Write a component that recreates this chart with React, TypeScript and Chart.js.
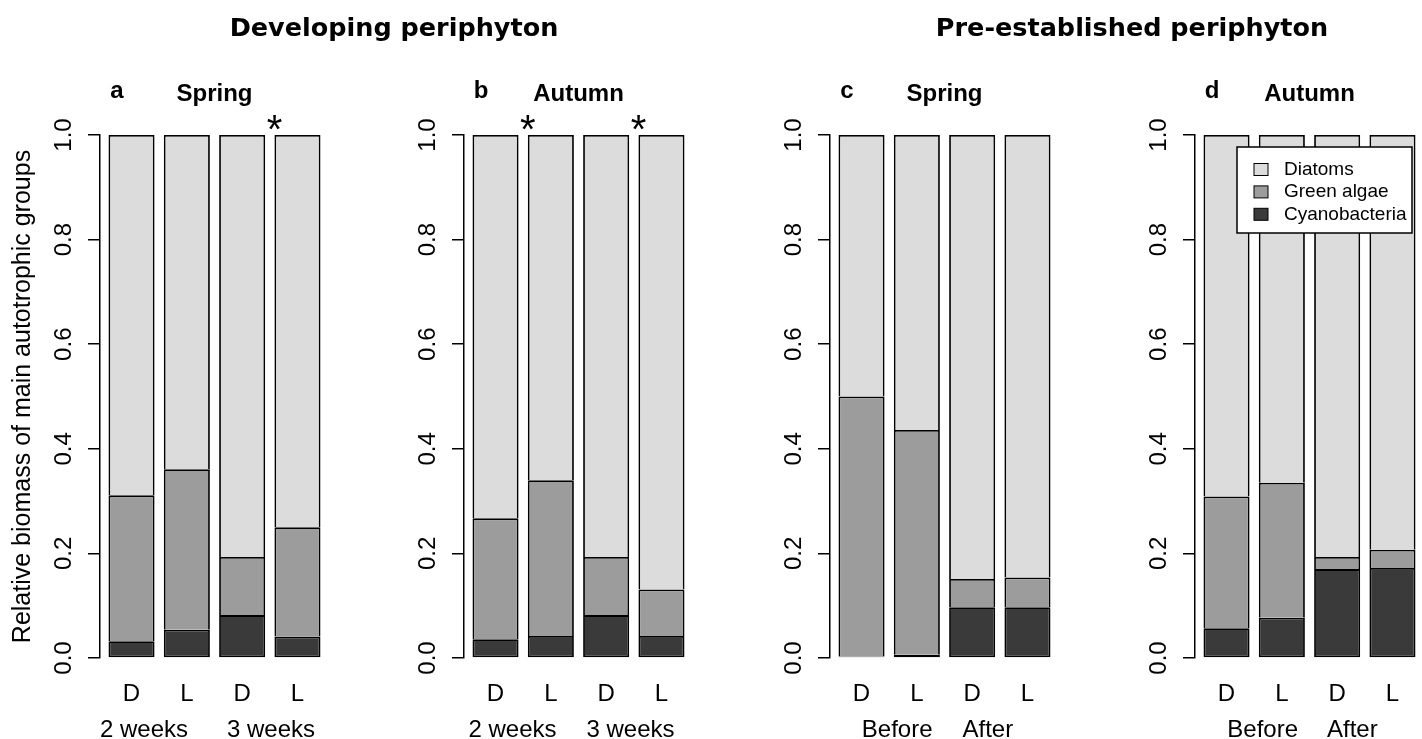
import React, { useEffect, useRef } from "react";
import { Chart, registerables } from "chart.js";

Chart.register(...registerables);

// ---------- data ----------
const xLabels = ["D", "L", "D", "L"];
const xIndex = [0, 1, 2, 3];
const yTicks = [0, 0.2, 0.4, 0.6, 0.8, 1.0];
const seriesNames = ["Cyanobacteria", "Green algae", "Diatoms"];
const seriesColors = ["#3a3a3a", "#9c9c9c", "#dcdcdc"];
const yTitle = "Relative biomass of main autotrophic groups";
const mainTitles = ["Developing periphyton", "Pre-established periphyton"];
const panelLetters = ["a", "b", "c", "d"];
const seasons = ["Spring", "Autumn", "Spring", "Autumn"];
const groupsDeveloping = ["2 weeks", "3 weeks"];
const groupsPre = ["Before", "After"];

// panel a: Developing, Spring
const cyanoA = [0.032, 0.054, 0.082, 0.041];
const greenA = [0.279, 0.307, 0.111, 0.209];
const diatomA = [0.689, 0.639, 0.807, 0.75];
const starsA = [3];

// panel b: Developing, Autumn
const cyanoB = [0.036, 0.042, 0.082, 0.042];
const greenB = [0.231, 0.298, 0.111, 0.089];
const diatomB = [0.733, 0.66, 0.807, 0.869];
const starsB = [1, 3];

// panel c: Pre-established, Spring
const cyanoC = [0.003, 0.006, 0.097, 0.097];
const greenC = [0.497, 0.43, 0.054, 0.057];
const diatomC = [0.5, 0.564, 0.849, 0.846];
const starsC: number[] = [];

// panel d: Pre-established, Autumn
const cyanoD = [0.057, 0.077, 0.17, 0.172];
const greenD = [0.252, 0.258, 0.023, 0.035];
const diatomD = [0.691, 0.665, 0.807, 0.793];
const starsD: number[] = [];

const FONT = "'Liberation Sans', Arial, sans-serif";

type PanelProps = {
  left: number;
  letter: string;
  season: string;
  cyano: number[];
  green: number[];
  diatom: number[];
  groups: string[];
  groupGap: number;
  stars: number[];
  showYTitle: boolean;
  showLegend: boolean;
};

function Panel(props: PanelProps) {
  const ref = useRef<HTMLCanvasElement>(null);
  useEffect(() => {
    const { letter, season, cyano, green, diatom, groups, groupGap, stars, showYTitle, showLegend } = props;
    const decor = {
      id: "decor",
      afterDraw(chart: any) {
        const { ctx, chartArea } = chart;
        const ys = chart.scales.y;
        ctx.save();
        ctx.fillStyle = "#000";
        // rotated y tick labels
        ctx.font = `24px ${FONT}`;
        ctx.textAlign = "center";
        ctx.textBaseline = "middle";
        ys.ticks.forEach((t: any) => {
          const y = ys.getPixelForValue(t.value);
          ctx.save();
          ctx.translate(chartArea.left - 35.5, y);
          ctx.rotate(-Math.PI / 2);
          ctx.fillText(Number(t.value).toFixed(1), 0, 0);
          ctx.restore();
        });
        // panel letter and season title
        ctx.font = `bold 24px ${FONT}`;
        ctx.textBaseline = "alphabetic";
        ctx.fillText(letter, chartArea.left + 17, chartArea.top - 37.5);
        ctx.fillText(season, (chartArea.left + chartArea.right) / 2, chartArea.top - 34.5);
        // asterisks
        const meta = chart.getDatasetMeta(2);
        ctx.font = `40px ${FONT}`;
        stars.forEach((i) => {
          const el: any = meta.data[i];
          const x = el.x - el.width / 2;
          const m = ctx.measureText("*");
          const cy = chartArea.top - 13;
          ctx.fillText("*", x, cy + (m.actualBoundingBoxAscent - m.actualBoundingBoxDescent) / 2);
        });
        // group labels
        ctx.font = `24px ${FONT}`;
        ctx.textAlign = "left";
        const w1 = ctx.measureText(groups[0]).width;
        const w2 = ctx.measureText(groups[1]).width;
        const c = (chartArea.left + chartArea.right) / 2 - 7;
        const start = c - (w1 + groupGap + w2) / 2;
        const by = chartArea.bottom + 79;
        ctx.fillText(groups[0], start, by);
        ctx.fillText(groups[1], start + w1 + groupGap, by);
        // legend
        if (showLegend) {
          const bw = 175;
          const bh = 86;
          const bx = chartArea.right - 12 - bw;
          const bt = chartArea.top + 12;
          ctx.fillStyle = "#fff";
          ctx.fillRect(bx, bt, bw, bh);
          ctx.strokeStyle = "#000";
          ctx.lineWidth = 1.5;
          ctx.strokeRect(bx, bt, bw, bh);
          const ds = chart.data.datasets.slice().reverse();
          ctx.font = `19px ${FONT}`;
          ctx.textBaseline = "middle";
          ctx.textAlign = "left";
          ds.forEach((d: any, i: number) => {
            const cy = bt + 22.5 + 22.4 * i;
            ctx.fillStyle = d.backgroundColor;
            ctx.fillRect(bx + 17, cy - 6, 14, 12);
            ctx.lineWidth = 1;
            ctx.strokeRect(bx + 17, cy - 6, 14, 12);
            ctx.fillStyle = "#000";
            ctx.fillText(d.label, bx + 47, cy);
          });
        }
        ctx.restore();
      },
    };

    const mk = (vals: number[]) => xIndex.map((x, i) => ({ x, y: vals[i] }));
    const chart = new Chart(ref.current as HTMLCanvasElement, {
      type: "bar",
      data: {
        datasets: [
          { label: seriesNames[0], data: mk(cyano), backgroundColor: seriesColors[0], borderColor: "#000", borderWidth: 1.8, borderSkipped: false },
          { label: seriesNames[1], data: mk(green), backgroundColor: seriesColors[1], borderColor: "#000", borderWidth: 1.8, borderSkipped: "start" },
          { label: seriesNames[2], data: mk(diatom), backgroundColor: seriesColors[2], borderColor: "#000", borderWidth: 1.8, borderSkipped: "start" },
        ] as any,
      },
      options: {
        responsive: false,
        animation: false,
        layout: { padding: { left: 0, right: 31, top: 135, bottom: 1 } },
        datasets: { bar: { barPercentage: 0.833, categoryPercentage: 1 } } as any,
        scales: {
          x: {
            type: "linear",
            stacked: true,
            offset: false,
            min: -0.57,
            max: 3.57,
            afterBuildTicks: (s: any) => {
              s.ticks = xIndex.map((v) => ({ value: v }));
            },
            afterFit: (s: any) => {
              s.height = 80;
            },
            grid: { display: false, drawTicks: false },
            border: { display: false },
            ticks: {
              callback: (v: any) => xLabels[v],
              font: { size: 24, family: FONT },
              color: "#000",
              padding: 22,
              autoSkip: false,
              maxRotation: 0,
            },
          },
          y: {
            stacked: true,
            min: 0,
            max: 1,
            afterBuildTicks: (s: any) => {
              s.ticks = yTicks.map((v) => ({ value: v }));
            },
            afterFit: (s: any) => {
              s.width = 100;
            },
            grid: { drawOnChartArea: false, drawTicks: true, tickLength: 12, color: "#000", lineWidth: 1.5 },
            border: { display: true, color: "#000", width: 1.5 },
            ticks: { display: false },
            title: {
              display: showYTitle,
              text: yTitle,
              font: { size: 25, family: FONT },
              color: "#000",
              padding: { top: 8, bottom: 0 },
            },
          },
        } as any,
        plugins: { legend: { display: false }, tooltip: { enabled: false }, title: { display: false } },
      },
      plugins: [decor],
    });
    return () => chart.destroy();
  }, []);
  return (
    <canvas
      ref={ref}
      width={360}
      height={739}
      style={{ position: "absolute", left: props.left, top: 0, width: 360, height: 739, display: "block" }}
    />
  );
}

export default function App() {
  const titleStyle = (cx: number): React.CSSProperties => ({
    position: "absolute",
    left: cx - 300,
    width: 600,
    top: 12,
    textAlign: "center",
    fontFamily: "'DejaVu Sans', Verdana, sans-serif",
    fontWeight: "bold",
    fontSize: 25.5,
    lineHeight: "30px",
    color: "#000",
    whiteSpace: "nowrap",
  });
  return (
    <div style={{ position: "fixed", left: 0, top: 0, width: 1422, height: 739, overflow: "hidden", background: "#fff" }}>
      <Panel left={0} letter={panelLetters[0]} season={seasons[0]} cyano={cyanoA} green={greenA} diatom={diatomA} groups={groupsDeveloping} groupGap={39} stars={starsA} showYTitle={true} showLegend={false} />
      <Panel left={364} letter={panelLetters[1]} season={seasons[1]} cyano={cyanoB} green={greenB} diatom={diatomB} groups={groupsDeveloping} groupGap={30} stars={starsB} showYTitle={false} showLegend={false} />
      <Panel left={730} letter={panelLetters[2]} season={seasons[2]} cyano={cyanoC} green={greenC} diatom={diatomC} groups={groupsPre} groupGap={30} stars={starsC} showYTitle={false} showLegend={false} />
      <Panel left={1095} letter={panelLetters[3]} season={seasons[3]} cyano={cyanoD} green={greenD} diatom={diatomD} groups={groupsPre} groupGap={29} stars={starsD} showYTitle={false} showLegend={true} />
      <div style={titleStyle(394)}>{mainTitles[0]}</div>
      <div style={titleStyle(1132)}>{mainTitles[1]}</div>
    </div>
  );
}
